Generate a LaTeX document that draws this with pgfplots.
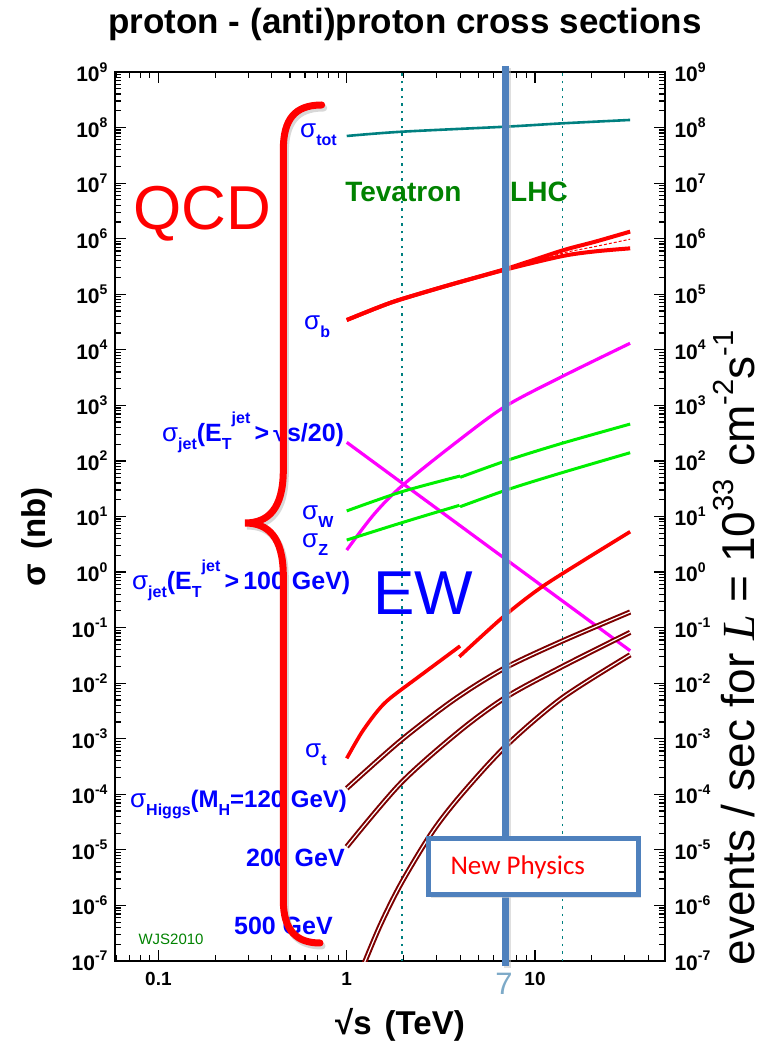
\documentclass[border=0pt]{standalone}
\usepackage{fontspec}
\setmainfont{Liberation Sans}
\newfontfamily\calibri{Carlito}
\newfontfamily\timesfont{Liberation Serif}
\usepackage{pgfplots}
\pgfplotsset{compat=1.18}

\definecolor{tealc}{RGB}{0,128,128}
\definecolor{limeg}{RGB}{0,240,0}
\definecolor{magc}{RGB}{255,0,255}
\definecolor{redc}{RGB}{255,0,0}
\definecolor{dred}{RGB}{125,0,0}
\definecolor{labblue}{RGB}{0,0,255}
\definecolor{lblgreen}{RGB}{0,130,0}
\definecolor{steel}{RGB}{79,129,189}
\definecolor{sevenblue}{RGB}{125,170,200}

% tick label: 10 with raised exponent
\newcommand\tl[1]{10\raisebox{0.45em}{\fontsize{14}{14}\selectfont\bfseries #1}}
% sigma with bold subscript
\newcommand\sig[1]{{\fontsize{26}{28}\selectfont\mdseries σ}\raisebox{-0.3em}{\fontsize{16}{16}\selectfont\bfseries #1}}
\newcommand\ET{E\raisebox{-0.3em}{\fontsize{16}{16}\selectfont T}\raisebox{0.75em}{\fontsize{16}{16}\selectfont jet}}
\newcommand\sups[1]{\raisebox{0.45em}{\fontsize{29}{29}\selectfont #1}}

\begin{document}
\begin{tikzpicture}
\useasboundingbox (0pt,0pt) rectangle (764pt,1041pt);

% right-hand tick labels
\begin{axis}[at={(115pt,80pt)}, anchor=south west,
  scale only axis, width=550pt, height=889pt,
  xmode=log, ymode=log,
  xmin=0.0588, xmax=49, ymin=1e-7, ymax=1e9,
  axis line style={line width=1.8pt},
  every tick/.style={black, line width=1.2pt},
  major tick length=11pt, minor tick length=6pt,
  tick align=inside,
  xtick=\empty,
  ticklabel style={font=\fontsize{21}{24}\selectfont\bfseries},
  yticklabel={\pgfmathtruncatemacro\ex{round(\tick/ln(10))}\tl{\ex}},
  yticklabel pos=right,
  yticklabel style={xshift=6pt}]
\end{axis}

\begin{axis}[at={(115pt,80pt)}, anchor=south west,
  scale only axis, width=550pt, height=889pt,
  xmode=log, ymode=log,
  xmin=0.0588, xmax=49, ymin=1e-7, ymax=1e9,
  axis line style={line width=1.8pt},
  every tick/.style={black, line width=1.2pt},
  major tick length=11pt, minor tick length=6pt,
  tick align=inside,
  ticklabel style={font=\fontsize{21}{24}\selectfont\bfseries},
  yticklabel={\pgfmathtruncatemacro\ex{round(\tick/ln(10))}\tl{\ex}},
  yticklabel style={xshift=-4pt},
  xticklabel={\pgfmathtruncatemacro\ex{round(\tick/ln(10))}%
    \ifnum\ex<0 0.1\else\ifnum\ex=0 1\else 10\fi\fi},
  xticklabel style={font=\fontsize{19}{22}\selectfont\bfseries, yshift=-8pt}]
  % collider energies
  \draw[tealc, line width=1.6pt, dash pattern=on 2.5pt off 5pt]
    (axis cs:1.96,1e-7) -- (axis cs:1.96,1e9);
  \draw[tealc, line width=1.6pt, dash pattern=on 2.5pt off 5pt]
    (axis cs:14,1e-7) -- (axis cs:14,1e9);
  \coordinate (n7) at (axis cs:7,1e9);
  \coordinate (s7) at (axis cs:7,1e-7);

  % sigma_tot
  \addplot[tealc, line width=2.6pt, smooth] coordinates {
    (1,7.05e7) (1.94,8.4e7) (7.1,1.04e8) (13.9,1.19e8) (32,1.37e8)};
  % sigma_b
  \addplot[redc, line width=4pt, smooth] coordinates {
    (1,3.44e4) (1.5,5.96e4) (1.94,8.1e4) (3.54,1.48e5) (7.1,2.9e5)
    (13.9,6.1e5) (20.8,8.8e5) (32,1.34e6)};
  \addplot[redc, line width=4pt, smooth] coordinates {
    (1,3.44e4) (1.5,5.96e4) (1.94,8.1e4) (3.54,1.48e5) (7.1,2.82e5)
    (13.9,4.85e5) (20.8,5.9e5) (32,6.7e5)};
  \addplot[redc, line width=1pt, dash pattern=on 3pt off 2pt, smooth] coordinates {
    (7.1,2.86e5) (13.9,5.45e5) (20.8,7.2e5) (32,9.8e5)};
  % rising magenta curve
  \addplot[magc, line width=3.2pt, smooth] coordinates {
    (1,2.49) (1.384,10.6) (1.96,35.4) (3.84,220) (6.93,953)
    (13.86,3280) (31.96,1.31e4)};
  % falling magenta line
  \addplot[magc, line width=3.2pt] coordinates {(1,216) (32,0.0384)};
  % sigma_W and sigma_Z (p-pbar below 4 TeV, pp above)
  \addplot[limeg, line width=3pt, smooth] coordinates {
    (1,12.6) (1.96,27.9) (4.0,53.5)};
  \addplot[limeg, line width=3pt, smooth] coordinates {
    (4.0,50.7) (7.22,104) (13.9,207.5) (32,461)};
  \addplot[limeg, line width=3pt, smooth] coordinates {
    (1,3.77) (1.96,7.73) (3.97,15.9)};
  \addplot[limeg, line width=3pt, smooth] coordinates {
    (4.0,15) (7.22,30.8) (13.9,61.4) (32,140.6)};
  % sigma_t
  \addplot[redc, line width=3.6pt, smooth] coordinates {
    (1,4.44e-4) (1.2,1.29e-3) (1.45,3.1e-3) (1.7,5.36e-3) (2.55,0.01503) (4.0,0.0466)};
  \addplot[redc, line width=3.6pt, smooth] coordinates {
    (3.96,0.0299) (6.79,0.157) (10.6,0.509) (18,1.6) (32,5.32)};
  % sigma_Higgs, M_H = 120, 200, 500 GeV
  \addplot[dred, line width=2pt, double=white, double distance=1.2pt, smooth] coordinates {
    (1,1.28e-4) (1.94,9.35e-4) (3.76,5.2e-3) (6.9,0.0187) (13.9,0.0571) (32,0.191)};
  \addplot[dred, line width=2pt, double=white, double distance=1.2pt, smooth] coordinates {
    (1,1.14e-5) (1.94,1.6e-4) (4,1.4e-3) (7.07,5.7e-3) (13.9,0.0198) (32,0.0822)};
  \addplot[dred, line width=2pt, double=white, double distance=1.2pt, smooth] coordinates {
    (1.2,7e-8) (1.5,4.27e-7) (1.94,2.45e-6) (2.82,2.0e-5) (4,9.3e-5) (7,7.4e-4)
    (13.9,5.4e-3) (32,0.0324)};
\end{axis}

\begin{scope}[x=1pt,y=1pt]
% LHC 7 TeV marker
\draw[black!25, line width=7pt, opacity=0.5] ([xshift=2pt,yshift=4pt]n7) -- ([xshift=2pt,yshift=-7pt]s7);
\draw[steel, line width=7pt] ([yshift=6pt]n7) -- ([yshift=-5pt]s7);
\node[anchor=base, text=sevenblue, font=\fontsize{31}{32}\selectfont, inner sep=0pt]
  at ([xshift=-2pt,yshift=-34pt]s7) {7};

% New Physics box
\fill[black!20, opacity=0.6] (431,143) rectangle (641,200);
\draw[steel, line width=5pt, fill=white] (428.3,146) rectangle (638.3,202.7);
\node[anchor=base west, text=redc, font=\calibri\fontsize{27}{30}\selectfont] at (447,166) {New Physics};

% titles
\node[font=\fontsize{35}{40}\selectfont\bfseries, anchor=base] at (405,1007) {proton - (anti)proton cross sections};
\node[font=\fontsize{33}{36}\selectfont\bfseries, anchor=base] at (400,6) {√s\hspace{13pt}(TeV)};
\node[font=\fontsize{33}{36}\selectfont\bfseries, rotate=90, anchor=base] at (45,504) {σ\hspace{14pt}(nb)};
\node[font=\fontsize{46}{50}\selectfont, rotate=90, anchor=base, inner sep=0pt] at (754,393)
  {events / sec for {\timesfont\itshape L} = 10\sups{33} cm\sups{-2}s\sups{-1}};

\node[anchor=base west, text=redc, font=\fontsize{62}{64}\selectfont] at (130,811) {QCD};
\node[anchor=base west, text=labblue, font=\fontsize{62}{64}\selectfont] at (370,426) {EW};
\node[anchor=base east, text=lblgreen, font=\fontsize{28}{30}\selectfont\bfseries] at (465,839.3) {Tevatron};
\node[anchor=base west, text=lblgreen, font=\fontsize{28}{30}\selectfont\bfseries] at (506.7,839.3) {LHC};
\node[anchor=base west, text=lblgreen, font=\fontsize{15}{16}\selectfont] at (135,96) {WJS2010};

\begin{scope}[every node/.style={anchor=base west, text=labblue, inner sep=0pt,
    font=\fontsize{25}{28}\selectfont\bfseries}]
  \node at (300,903) {\sig{tot}};
  \node at (304,711) {\sig{b}};
  \node at (162,599) {\sig{jet}(\ET\,>\,√s/20)};
  \node at (302,521) {\sig{W}};
  \node at (302,493) {\sig{Z}};
  \node at (132,451) {\sig{jet}(\ET\,>\,100 GeV)};
  \node at (305,283) {\sig{t}};
  \node[font=\fontsize{24}{28}\selectfont\bfseries] at (130,233)
    {\sig{Higgs}(M\raisebox{-0.3em}{\fontsize{16}{16}\selectfont H}=120 GeV)};
  \node[anchor=base east] at (345,174) {200 GeV};
  \node[anchor=base east] at (333,106) {500 GeV};
\end{scope}

% QCD / EW brace
\begin{scope}[line cap=round]
\draw[black!30, opacity=0.5, line width=7pt, shift={(2pt,-3pt)}]
  (321.7,936) .. controls (295,936) and (283.3,922) .. (283.3,891)
  -- (283.3,571) .. controls (283.3,532) and (268,518) .. (245,518)
  .. controls (268,518) and (283.3,504) .. (283.3,465)
  -- (283.3,141) .. controls (283.3,110) and (297,98) .. (320,98);
\draw[redc, line width=7pt]
  (321.7,936) .. controls (295,936) and (283.3,922) .. (283.3,891)
  -- (283.3,571) .. controls (283.3,532) and (268,518) .. (245,518)
  .. controls (268,518) and (283.3,504) .. (283.3,465)
  -- (283.3,141) .. controls (283.3,110) and (297,98) .. (320,98);
\end{scope}
\end{scope}
\end{tikzpicture}
\end{document}
